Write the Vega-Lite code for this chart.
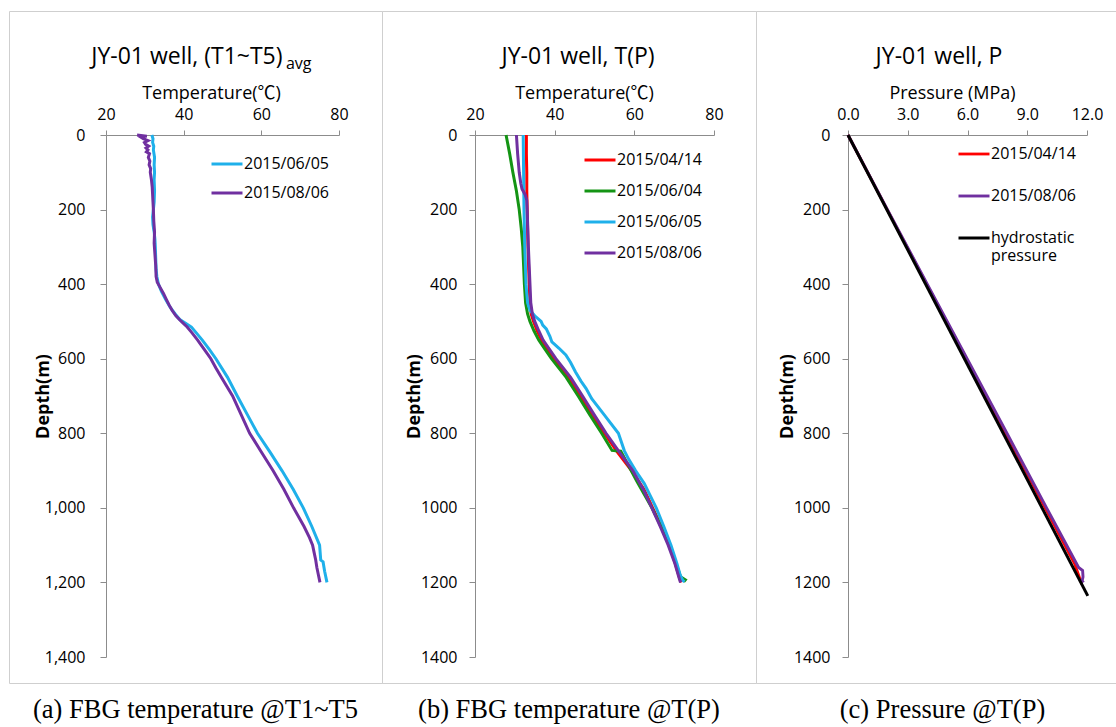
{
  "$schema": "https://vega.github.io/schema/vega-lite/v6.json",
  "padding": {"left": 8, "top": 10, "right": -13, "bottom": -12},
  "background": "white",
  "columns": 3,
  "spacing": 0,
  "bounds": "flush",
  "resolve": {"scale": {"color": "independent", "strokeWidth": "independent"}, "legend": {"color": "independent"}},
  "config": {
    "font": "Open Sans",
    "view": {"stroke": "#cfcfcf", "strokeWidth": 1},
    "axis": {"grid": false, "domainColor": "#8c8c8c", "tickColor": "#8c8c8c", "labelColor": "#000000", "titleColor": "#000000", "labelFont": "Open Sans", "titleFont": "Open Sans, Noto Sans CJK TC", "labelFontSize": 16, "titleFontSize": 18, "labelFlush": false, "labelOverlap": false},
    "axisTop": {"tickSize": 5, "labelPadding": 8, "titlePadding": 4, "titleFontWeight": "normal"},
    "axisLeft": {"tickSize": 6, "labelPadding": 12, "titleFontWeight": "bold", "titleFontSize": 18},
    "legend": {"orient": "none", "direction": "vertical", "symbolType": "stroke", "symbolSize": 961, "symbolStrokeWidth": 3, "labelFontSize": 16, "labelFont": "Open Sans", "labelColor": "#000000", "labelOffset": 0, "padding": 0},
    "title": {"font": "Open Sans", "fontSize": 23, "fontWeight": "normal", "color": "#000000", "anchor": "middle", "frame": "group", "offset": -58}
  },
  "concat": [
    {
      "width": 373, "height": 672,
      "title": {"text": "JY-01 well, (T1~T5)\u00a0\u00a0\u2800", "subtitle": "avg", "align": "right", "dx": 116, "offset": -61, "subtitleFont": "Open Sans", "subtitleFontSize": 16, "subtitleColor": "#000000", "subtitlePadding": -13},
      "data": {"values": [
        {"series": "2015/06/05", "depth": 0, "value": 31.8}, {"series": "2015/06/05", "depth": 10, "value": 32.1}, {"series": "2015/06/05", "depth": 20, "value": 32.0}, {"series": "2015/06/05", "depth": 30, "value": 32.3}, {"series": "2015/06/05", "depth": 40, "value": 32.2}, {"series": "2015/06/05", "depth": 60, "value": 32.5}, {"series": "2015/06/05", "depth": 80, "value": 32.4}, {"series": "2015/06/05", "depth": 100, "value": 32.5}, {"series": "2015/06/05", "depth": 120, "value": 32.4}, {"series": "2015/06/05", "depth": 150, "value": 32.5}, {"series": "2015/06/05", "depth": 180, "value": 32.4}, {"series": "2015/06/05", "depth": 200, "value": 32.2}, {"series": "2015/06/05", "depth": 220, "value": 32.0}, {"series": "2015/06/05", "depth": 240, "value": 32.1}, {"series": "2015/06/05", "depth": 260, "value": 32.4}, {"series": "2015/06/05", "depth": 280, "value": 32.6}, {"series": "2015/06/05", "depth": 300, "value": 32.7}, {"series": "2015/06/05", "depth": 330, "value": 32.8}, {"series": "2015/06/05", "depth": 360, "value": 32.9}, {"series": "2015/06/05", "depth": 380, "value": 33.1}, {"series": "2015/06/05", "depth": 400, "value": 33.5}, {"series": "2015/06/05", "depth": 420, "value": 34.3}, {"series": "2015/06/05", "depth": 440, "value": 35.3}, {"series": "2015/06/05", "depth": 460, "value": 36.4}, {"series": "2015/06/05", "depth": 480, "value": 37.8}, {"series": "2015/06/05", "depth": 495, "value": 39.0}, {"series": "2015/06/05", "depth": 505, "value": 40.5}, {"series": "2015/06/05", "depth": 515, "value": 42.0}, {"series": "2015/06/05", "depth": 530, "value": 43.2}, {"series": "2015/06/05", "depth": 550, "value": 44.8}, {"series": "2015/06/05", "depth": 575, "value": 46.6}, {"series": "2015/06/05", "depth": 600, "value": 48.3}, {"series": "2015/06/05", "depth": 650, "value": 51.3}, {"series": "2015/06/05", "depth": 700, "value": 53.8}, {"series": "2015/06/05", "depth": 750, "value": 56.4}, {"series": "2015/06/05", "depth": 800, "value": 59.0}, {"series": "2015/06/05", "depth": 850, "value": 62.2}, {"series": "2015/06/05", "depth": 900, "value": 65.3}, {"series": "2015/06/05", "depth": 950, "value": 68.2}, {"series": "2015/06/05", "depth": 1000, "value": 70.8}, {"series": "2015/06/05", "depth": 1050, "value": 73.0}, {"series": "2015/06/05", "depth": 1100, "value": 75.0}, {"series": "2015/06/05", "depth": 1140, "value": 75.3}, {"series": "2015/06/05", "depth": 1145, "value": 75.9}, {"series": "2015/06/05", "depth": 1170, "value": 76.3}, {"series": "2015/06/05", "depth": 1200, "value": 76.9},
        {"series": "2015/08/06", "depth": 0, "value": 28.0}, {"series": "2015/08/06", "depth": 3, "value": 30.5}, {"series": "2015/08/06", "depth": 6, "value": 29.0}, {"series": "2015/08/06", "depth": 10, "value": 29.6}, {"series": "2015/08/06", "depth": 15, "value": 30.8}, {"series": "2015/08/06", "depth": 20, "value": 29.9}, {"series": "2015/08/06", "depth": 25, "value": 30.2}, {"series": "2015/08/06", "depth": 30, "value": 31.0}, {"series": "2015/08/06", "depth": 35, "value": 30.3}, {"series": "2015/08/06", "depth": 40, "value": 30.8}, {"series": "2015/08/06", "depth": 45, "value": 30.4}, {"series": "2015/08/06", "depth": 50, "value": 31.2}, {"series": "2015/08/06", "depth": 60, "value": 30.9}, {"series": "2015/08/06", "depth": 70, "value": 31.3}, {"series": "2015/08/06", "depth": 80, "value": 31.1}, {"series": "2015/08/06", "depth": 90, "value": 31.5}, {"series": "2015/08/06", "depth": 100, "value": 31.4}, {"series": "2015/08/06", "depth": 120, "value": 31.7}, {"series": "2015/08/06", "depth": 140, "value": 31.9}, {"series": "2015/08/06", "depth": 160, "value": 32.0}, {"series": "2015/08/06", "depth": 180, "value": 32.1}, {"series": "2015/08/06", "depth": 200, "value": 32.2}, {"series": "2015/08/06", "depth": 230, "value": 32.3}, {"series": "2015/08/06", "depth": 260, "value": 32.5}, {"series": "2015/08/06", "depth": 290, "value": 32.4}, {"series": "2015/08/06", "depth": 320, "value": 32.6}, {"series": "2015/08/06", "depth": 350, "value": 32.8}, {"series": "2015/08/06", "depth": 380, "value": 32.9}, {"series": "2015/08/06", "depth": 395, "value": 33.2}, {"series": "2015/08/06", "depth": 410, "value": 34.0}, {"series": "2015/08/06", "depth": 425, "value": 34.8}, {"series": "2015/08/06", "depth": 440, "value": 35.5}, {"series": "2015/08/06", "depth": 455, "value": 36.2}, {"series": "2015/08/06", "depth": 470, "value": 37.0}, {"series": "2015/08/06", "depth": 485, "value": 38.0}, {"series": "2015/08/06", "depth": 500, "value": 39.4}, {"series": "2015/08/06", "depth": 515, "value": 40.9}, {"series": "2015/08/06", "depth": 530, "value": 42.1}, {"series": "2015/08/06", "depth": 550, "value": 43.6}, {"series": "2015/08/06", "depth": 575, "value": 45.3}, {"series": "2015/08/06", "depth": 600, "value": 47.0}, {"series": "2015/08/06", "depth": 625, "value": 48.3}, {"series": "2015/08/06", "depth": 650, "value": 49.7}, {"series": "2015/08/06", "depth": 700, "value": 52.6}, {"series": "2015/08/06", "depth": 750, "value": 54.8}, {"series": "2015/08/06", "depth": 800, "value": 57.0}, {"series": "2015/08/06", "depth": 850, "value": 60.0}, {"series": "2015/08/06", "depth": 900, "value": 63.0}, {"series": "2015/08/06", "depth": 950, "value": 65.8}, {"series": "2015/08/06", "depth": 1000, "value": 68.3}, {"series": "2015/08/06", "depth": 1050, "value": 71.0}, {"series": "2015/08/06", "depth": 1080, "value": 72.4}, {"series": "2015/08/06", "depth": 1100, "value": 73.2}, {"series": "2015/08/06", "depth": 1120, "value": 73.6}, {"series": "2015/08/06", "depth": 1140, "value": 74.0}, {"series": "2015/08/06", "depth": 1160, "value": 74.3}, {"series": "2015/08/06", "depth": 1180, "value": 74.7}, {"series": "2015/08/06", "depth": 1200, "value": 75.1}
      ]},
      "mark": {"type": "line", "strokeWidth": 3},
      "encoding": {
        "x": {"field": "value", "type": "quantitative", "scale": {"domain": [20, 80], "range": [97, 330], "nice": false},
              "axis": {"orient": "top", "offset": -124, "values": [20, 40, 60, 80], "title": "Temperature(℃)", "titleX": 202}},
        "y": {"field": "depth", "type": "quantitative", "scale": {"domain": [0, 1400], "range": [124, 646], "nice": false},
              "axis": {"orient": "left", "offset": -97, "values": [0, 200, 400, 600, 800, 1000, 1200, 1400], "format": ",d", "title": "Depth(m)", "titleX": -54, "labelPadding": 15}},
        "order": {"field": "depth", "type": "quantitative"},
        "color": {"field": "series", "type": "nominal",
                  "scale": {"domain": ["2015/06/05", "2015/08/06"], "range": ["#1fb0ea", "#7030a0"]},
                  "legend": {"title": null, "legendX": 201, "legendY": 136, "rowPadding": 4}}
      }
    },
    {
      "width": 374, "height": 672,
      "title": {"text": "JY-01 well, T(P)", "dx": 9},
      "data": {"values": [
        {"series": "2015/04/14", "depth": 0, "value": 32.9}, {"series": "2015/04/14", "depth": 50, "value": 32.9}, {"series": "2015/04/14", "depth": 100, "value": 33.0}, {"series": "2015/04/14", "depth": 150, "value": 33.0}, {"series": "2015/04/14", "depth": 200, "value": 33.1}, {"series": "2015/04/14", "depth": 300, "value": 33.3}, {"series": "2015/04/14", "depth": 400, "value": 33.6}, {"series": "2015/04/14", "depth": 450, "value": 33.8}, {"series": "2015/04/14", "depth": 480, "value": 34.1}, {"series": "2015/04/14", "depth": 500, "value": 34.7}, {"series": "2015/04/14", "depth": 525, "value": 35.6}, {"series": "2015/04/14", "depth": 550, "value": 36.7}, {"series": "2015/04/14", "depth": 600, "value": 39.9}, {"series": "2015/04/14", "depth": 650, "value": 43.6}, {"series": "2015/04/14", "depth": 700, "value": 46.6}, {"series": "2015/04/14", "depth": 750, "value": 49.4}, {"series": "2015/04/14", "depth": 800, "value": 52.5}, {"series": "2015/04/14", "depth": 850, "value": 55.7}, {"series": "2015/04/14", "depth": 900, "value": 59.3}, {"series": "2015/04/14", "depth": 950, "value": 62.4}, {"series": "2015/04/14", "depth": 1000, "value": 64.6}, {"series": "2015/04/14", "depth": 1050, "value": 66.8}, {"series": "2015/04/14", "depth": 1100, "value": 68.8}, {"series": "2015/04/14", "depth": 1150, "value": 70.3}, {"series": "2015/04/14", "depth": 1190, "value": 71.4}, {"series": "2015/04/14", "depth": 1200, "value": 71.8},
        {"series": "2015/06/04", "depth": 0, "value": 27.8}, {"series": "2015/06/04", "depth": 50, "value": 28.7}, {"series": "2015/06/04", "depth": 100, "value": 29.5}, {"series": "2015/06/04", "depth": 150, "value": 30.4}, {"series": "2015/06/04", "depth": 200, "value": 31.1}, {"series": "2015/06/04", "depth": 250, "value": 31.6}, {"series": "2015/06/04", "depth": 300, "value": 32.0}, {"series": "2015/06/04", "depth": 350, "value": 32.2}, {"series": "2015/06/04", "depth": 400, "value": 32.4}, {"series": "2015/06/04", "depth": 450, "value": 32.7}, {"series": "2015/06/04", "depth": 480, "value": 33.2}, {"series": "2015/06/04", "depth": 500, "value": 33.8}, {"series": "2015/06/04", "depth": 525, "value": 34.8}, {"series": "2015/06/04", "depth": 550, "value": 36.0}, {"series": "2015/06/04", "depth": 575, "value": 37.6}, {"series": "2015/06/04", "depth": 600, "value": 39.2}, {"series": "2015/06/04", "depth": 650, "value": 42.9}, {"series": "2015/06/04", "depth": 700, "value": 45.9}, {"series": "2015/06/04", "depth": 750, "value": 48.8}, {"series": "2015/06/04", "depth": 800, "value": 51.8}, {"series": "2015/06/04", "depth": 846, "value": 54.4}, {"series": "2015/06/04", "depth": 848, "value": 56.6}, {"series": "2015/06/04", "depth": 880, "value": 58.2}, {"series": "2015/06/04", "depth": 928, "value": 60.6}, {"series": "2015/06/04", "depth": 1000, "value": 64.4}, {"series": "2015/06/04", "depth": 1050, "value": 66.7}, {"series": "2015/06/04", "depth": 1100, "value": 68.8}, {"series": "2015/06/04", "depth": 1150, "value": 70.5}, {"series": "2015/06/04", "depth": 1185, "value": 71.6}, {"series": "2015/06/04", "depth": 1193, "value": 72.8}, {"series": "2015/06/04", "depth": 1198, "value": 72.4},
        {"series": "2015/06/05", "depth": 0, "value": 32.1}, {"series": "2015/06/05", "depth": 100, "value": 32.2}, {"series": "2015/06/05", "depth": 200, "value": 32.3}, {"series": "2015/06/05", "depth": 300, "value": 32.5}, {"series": "2015/06/05", "depth": 400, "value": 32.8}, {"series": "2015/06/05", "depth": 450, "value": 33.2}, {"series": "2015/06/05", "depth": 470, "value": 33.8}, {"series": "2015/06/05", "depth": 485, "value": 35.0}, {"series": "2015/06/05", "depth": 500, "value": 36.6}, {"series": "2015/06/05", "depth": 510, "value": 37.0}, {"series": "2015/06/05", "depth": 520, "value": 37.9}, {"series": "2015/06/05", "depth": 540, "value": 38.8}, {"series": "2015/06/05", "depth": 555, "value": 39.3}, {"series": "2015/06/05", "depth": 572, "value": 41.1}, {"series": "2015/06/05", "depth": 590, "value": 42.8}, {"series": "2015/06/05", "depth": 610, "value": 44.0}, {"series": "2015/06/05", "depth": 635, "value": 45.2}, {"series": "2015/06/05", "depth": 660, "value": 46.6}, {"series": "2015/06/05", "depth": 680, "value": 47.9}, {"series": "2015/06/05", "depth": 707, "value": 49.3}, {"series": "2015/06/05", "depth": 750, "value": 52.4}, {"series": "2015/06/05", "depth": 800, "value": 56.0}, {"series": "2015/06/05", "depth": 847, "value": 57.5}, {"series": "2015/06/05", "depth": 870, "value": 58.6}, {"series": "2015/06/05", "depth": 900, "value": 60.3}, {"series": "2015/06/05", "depth": 935, "value": 62.5}, {"series": "2015/06/05", "depth": 963, "value": 63.8}, {"series": "2015/06/05", "depth": 1000, "value": 65.5}, {"series": "2015/06/05", "depth": 1050, "value": 67.4}, {"series": "2015/06/05", "depth": 1100, "value": 69.2}, {"series": "2015/06/05", "depth": 1150, "value": 70.7}, {"series": "2015/06/05", "depth": 1180, "value": 71.5}, {"series": "2015/06/05", "depth": 1195, "value": 72.2}, {"series": "2015/06/05", "depth": 1198, "value": 72.6},
        {"series": "2015/08/06", "depth": 0, "value": 30.4}, {"series": "2015/08/06", "depth": 50, "value": 30.7}, {"series": "2015/08/06", "depth": 100, "value": 31.1}, {"series": "2015/08/06", "depth": 130, "value": 31.5}, {"series": "2015/08/06", "depth": 145, "value": 31.8}, {"series": "2015/08/06", "depth": 160, "value": 32.6}, {"series": "2015/08/06", "depth": 175, "value": 33.0}, {"series": "2015/08/06", "depth": 200, "value": 33.1}, {"series": "2015/08/06", "depth": 300, "value": 33.4}, {"series": "2015/08/06", "depth": 400, "value": 33.8}, {"series": "2015/08/06", "depth": 450, "value": 34.0}, {"series": "2015/08/06", "depth": 480, "value": 34.4}, {"series": "2015/08/06", "depth": 500, "value": 35.0}, {"series": "2015/08/06", "depth": 525, "value": 36.0}, {"series": "2015/08/06", "depth": 550, "value": 37.1}, {"series": "2015/08/06", "depth": 600, "value": 40.3}, {"series": "2015/08/06", "depth": 650, "value": 44.0}, {"series": "2015/08/06", "depth": 700, "value": 47.0}, {"series": "2015/08/06", "depth": 750, "value": 49.9}, {"series": "2015/08/06", "depth": 800, "value": 52.9}, {"series": "2015/08/06", "depth": 850, "value": 56.2}, {"series": "2015/08/06", "depth": 900, "value": 59.6}, {"series": "2015/08/06", "depth": 950, "value": 62.2}, {"series": "2015/08/06", "depth": 1000, "value": 64.4}, {"series": "2015/08/06", "depth": 1050, "value": 66.5}, {"series": "2015/08/06", "depth": 1100, "value": 68.5}, {"series": "2015/08/06", "depth": 1150, "value": 70.2}, {"series": "2015/08/06", "depth": 1190, "value": 71.3}, {"series": "2015/08/06", "depth": 1200, "value": 71.6}
      ]},
      "mark": {"type": "line", "strokeWidth": 3},
      "encoding": {
        "x": {"field": "value", "type": "quantitative", "scale": {"domain": [20, 80], "range": [93, 332], "nice": false},
              "axis": {"orient": "top", "offset": -124, "values": [20, 40, 60, 80], "title": "Temperature(℃)", "titleX": 202}},
        "y": {"field": "depth", "type": "quantitative", "scale": {"domain": [0, 1400], "range": [124, 646], "nice": false},
              "axis": {"orient": "left", "offset": -93, "values": [0, 200, 400, 600, 800, 1000, 1200, 1400], "format": "d", "title": "Depth(m)", "titleX": -52}},
        "order": {"field": "depth", "type": "quantitative"},
        "color": {"field": "series", "type": "nominal",
                  "scale": {"domain": ["2015/04/14", "2015/06/04", "2015/06/05", "2015/08/06"], "range": ["#ff0000", "#149414", "#1fb0ea", "#7030a0"]},
                  "legend": {"title": null, "legendX": 201, "legendY": 132, "rowPadding": 6}}
      }
    },
    {
      "width": 373, "height": 672,
      "title": {"text": "JY-01 well, P", "dx": -3.5},
      "data": {"values": [
        {"series": "2015/04/14", "depth": 0, "value": 0}, {"series": "2015/04/14", "depth": 200, "value": 1.97}, {"series": "2015/04/14", "depth": 400, "value": 3.95}, {"series": "2015/04/14", "depth": 600, "value": 5.94}, {"series": "2015/04/14", "depth": 800, "value": 7.93}, {"series": "2015/04/14", "depth": 1000, "value": 9.9}, {"series": "2015/04/14", "depth": 1150, "value": 11.38}, {"series": "2015/04/14", "depth": 1205, "value": 11.74},
        {"series": "2015/08/06", "depth": 0, "value": 0}, {"series": "2015/08/06", "depth": 200, "value": 1.98}, {"series": "2015/08/06", "depth": 400, "value": 3.98}, {"series": "2015/08/06", "depth": 600, "value": 5.98}, {"series": "2015/08/06", "depth": 800, "value": 7.98}, {"series": "2015/08/06", "depth": 1000, "value": 9.97}, {"series": "2015/08/06", "depth": 1160, "value": 11.58}, {"series": "2015/08/06", "depth": 1168, "value": 11.78}, {"series": "2015/08/06", "depth": 1185, "value": 11.8}, {"series": "2015/08/06", "depth": 1195, "value": 11.76}, {"series": "2015/08/06", "depth": 1200, "value": 11.82},
        {"series": "hydrostatic pressure", "depth": 0, "value": 0}, {"series": "hydrostatic pressure", "depth": 1236, "value": 12.04}
      ]},
      "mark": {"type": "line"},
      "encoding": {
        "x": {"field": "value", "type": "quantitative", "scale": {"domain": [0, 12], "range": [92, 331], "nice": false},
              "axis": {"orient": "top", "offset": -124, "values": [0, 3, 6, 9, 12], "format": ".1f", "title": "Pressure (MPa)", "titleX": 196}},
        "y": {"field": "depth", "type": "quantitative", "scale": {"domain": [0, 1400], "range": [124, 646], "nice": false},
              "axis": {"orient": "left", "offset": -92, "values": [0, 200, 400, 600, 800, 1000, 1200, 1400], "format": "d", "title": "Depth(m)", "titleX": -52}},
        "order": {"field": "depth", "type": "quantitative"},
        "strokeWidth": {"field": "series", "type": "nominal", "scale": {"domain": ["2015/04/14", "2015/08/06", "hydrostatic pressure"], "range": [2.8, 3, 2]}, "legend": null},
        "color": {"field": "series", "type": "nominal",
                  "scale": {"domain": ["2015/04/14", "2015/08/06", "hydrostatic pressure"], "range": ["#ff0000", "#7030a0", "#000000"]},
                  "legend": {"title": null, "legendX": 201, "legendY": 126, "rowPadding": 17, "labelExpr": "datum.label == 'hydrostatic pressure' ? ['hydrostatic', 'pressure'] : datum.label"}}
      }
    },
    {
      "width": 373, "height": 56,
      "data": {"values": [{"caption": "(a) FBG temperature @T1~T5"}]},
      "mark": {"type": "text", "font": "Liberation Serif", "fontSize": 26.5, "baseline": "alphabetic", "dy": 7, "color": "#000000"},
      "encoding": {"text": {"field": "caption", "type": "nominal"}}
    },
    {
      "width": 374, "height": 56,
      "data": {"values": [{"caption": "(b) FBG temperature @T(P)"}]},
      "mark": {"type": "text", "font": "Liberation Serif", "fontSize": 26.5, "baseline": "alphabetic", "dy": 7, "color": "#000000"},
      "encoding": {"text": {"field": "caption", "type": "nominal"}}
    },
    {
      "width": 373, "height": 56,
      "data": {"values": [{"caption": "(c) Pressure @T(P)"}]},
      "mark": {"type": "text", "font": "Liberation Serif", "fontSize": 26.5, "baseline": "alphabetic", "dy": 7, "color": "#000000"},
      "encoding": {"text": {"field": "caption", "type": "nominal"}}
    }
  ]
}
